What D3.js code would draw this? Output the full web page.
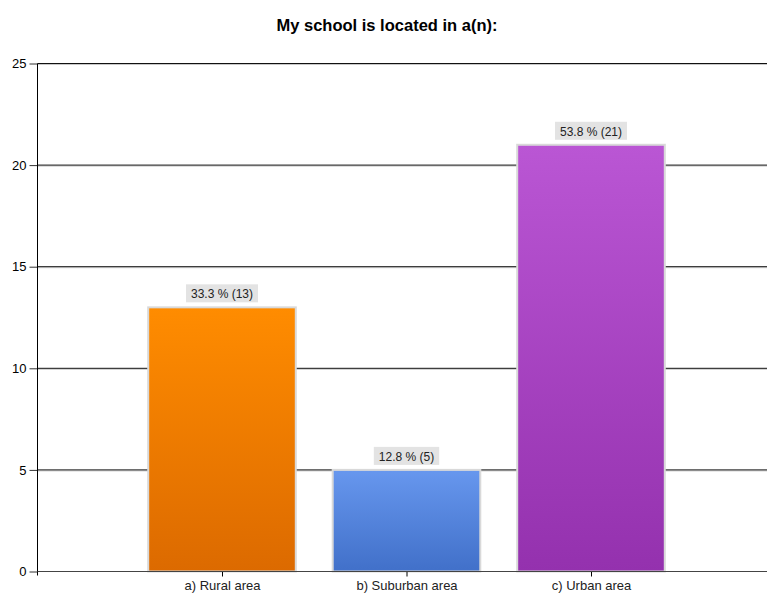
<!DOCTYPE html>
<html><head><meta charset="utf-8">
<script src="https://cdn.jsdelivr.net/npm/d3@7"></script>
<style>body{margin:0;background:#fff}svg{display:block;font-family:"Liberation Sans",Arial,sans-serif}</style>
</head><body>
<svg id="c" width="767" height="595"></svg>
<script>
const title = "My school is located in a(n):";
const categories = ["a) Rural area", "b) Suburban area", "c) Urban area"];
const counts = [13, 5, 21];
const percents = ["33.3 %", "12.8 %", "53.8 %"];
const yTicks = [0, 5, 10, 15, 20, 25];
const colorsTop = ["#ff8c00", "#6797ee", "#ba56d4"];
const colorsBottom = ["#dc6a00", "#4170c9", "#9431ae"];

(function () {
const svg = d3.select("#c");
const pLeft = 37.5, pRight = 775.5, pTop = 63.5, pBottom = 571.5;
const x = d3.scaleLinear().domain([0, 4]).range([pLeft, pRight]);
const y = d3.scaleLinear().domain([0, 25]).range([pBottom, pTop]);
const slot = x(1) - x(0);
const bw = slot * 0.8;

const defs = svg.append("defs");
categories.forEach((c, i) => {
  const g = defs.append("linearGradient").attr("id", "g" + i).attr("x1", 0).attr("y1", 0).attr("x2", 0).attr("y2", 1);
  g.append("stop").attr("offset", "0%").attr("stop-color", colorsTop[i]);
  g.append("stop").attr("offset", "100%").attr("stop-color", colorsBottom[i]);
});

svg.append("text").attr("x", 387).attr("y", 31).attr("text-anchor", "middle")
  .attr("font-weight", "bold").attr("font-size", 16.5).attr("fill", "#000").text(title);

const grid = svg.append("g");
yTicks.filter(t => t > 0).forEach(t => {
  grid.append("line").attr("x1", pLeft).attr("x2", 767).attr("y1", y(t) + 1).attr("y2", y(t) + 1).attr("stroke", "#c8c8c8");
  grid.append("line").attr("x1", pLeft).attr("x2", 767).attr("y1", y(t)).attr("y2", y(t)).attr("stroke", "#111");
});

const bars = svg.append("g");
categories.forEach((c, i) => {
  const cx = x(i + 1);
  bars.append("rect").attr("x", cx - bw / 2).attr("y", y(counts[i]))
    .attr("width", bw).attr("height", y(0) - y(counts[i]))
    .attr("fill", "url(#g" + i + ")").attr("stroke", "#d9d9d9").attr("stroke-width", 2);
  const lbl = percents[i] + " (" + counts[i] + ")";
  const t = bars.append("text").attr("x", cx).attr("y", y(counts[i]) - 9).attr("text-anchor", "middle")
    .attr("font-size", 12).attr("fill", "#222").text(lbl);
  const bb = t.node().getBBox();
  bars.insert("rect", () => t.node()).attr("x", bb.x - 5).attr("y", y(counts[i]) - 23)
    .attr("width", bb.width + 10).attr("height", 18).attr("fill", "#e3e3e3");
});

const yAxis = d3.axisLeft(y).tickValues(yTicks).tickSize(8).tickPadding(3);
const ga = svg.append("g").attr("transform", `translate(${pLeft},0)`).call(yAxis);
ga.select(".domain").remove();
ga.append("line").attr("x1", 0).attr("x2", 0).attr("y1", pTop).attr("y2", pBottom + 4).attr("stroke", "#000");
ga.selectAll("text").attr("font-size", 13).attr("fill", "#000").attr("font-family", "Liberation Sans, Arial, sans-serif");
ga.selectAll(".tick line").attr("stroke", "#333");

const xAxis = d3.axisBottom(x).tickValues([1, 2, 3]).tickFormat(d => categories[d - 1]).tickSize(5).tickPadding(4);
const gx = svg.append("g").attr("transform", `translate(0,${pBottom})`).call(xAxis);
gx.select(".domain").remove();
gx.append("line").attr("x1", pLeft).attr("x2", 767).attr("y1", 0).attr("y2", 0).attr("stroke", "#444");
gx.selectAll("text").attr("font-size", 13).attr("fill", "#222").attr("font-family", "Liberation Sans, Arial, sans-serif");
gx.selectAll(".tick line").attr("stroke", "#000");
})();
</script>
</body></html>
